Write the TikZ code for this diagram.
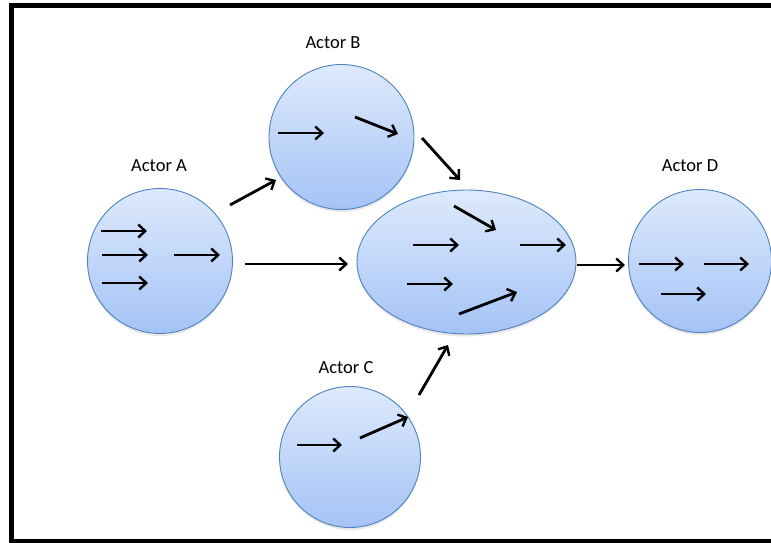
\documentclass[tikz,border=0pt]{standalone}
\usepackage{fontspec}
\setmainfont{Carlito}
\usetikzlibrary{arrows.meta,shadows,shapes.geometric}
\definecolor{topblue}{RGB}{222,234,252}
\definecolor{botblue}{RGB}{164,195,246}
\definecolor{edgeblue}{RGB}{79,129,189}
\tikzset{
  actor/.style={circle, draw=edgeblue, line width=0.9pt, inner sep=0pt,
    top color=topblue, bottom color=botblue,
    drop shadow={opacity=0.18, shadow xshift=0pt, shadow yshift=-2.5pt}},
  hub/.style={ellipse, draw=edgeblue, line width=0.9pt, inner sep=0pt,
    top color=topblue, bottom color=botblue,
    drop shadow={opacity=0.18, shadow xshift=0pt, shadow yshift=-2.5pt}},
  lbl/.style={font=\fontsize{18.5}{20}\selectfont, inner sep=0pt},
  arr/.style={line width=2.8pt, -{Straight Barb[length=7pt,width=13pt,line width=2.4pt]}},
  frame/.style={line width=5pt, draw=black}
}
\begin{document}
\begin{tikzpicture}[x=1pt,y=-1pt]
\useasboundingbox (0,0) rectangle (771,543);
\clip (0,0) rectangle (771,543);
\draw[frame] (11.5,5.5) rectangle (790,541.5);

% actors
\node[actor, minimum size=145pt] (A) at (160,261) {};
\node[actor, minimum size=145pt] (B) at (341.5,137) {};
\node[actor, minimum size=141pt] (C) at (350,457) {};
\node[actor, minimum size=143pt] (D) at (700,261) {};
\node[hub, minimum width=219pt, minimum height=144pt] (E) at (466.5,262) {};

% labels
\node[lbl] (la) at (159,166) {Actor A};
\node[lbl] (lb) at (333,43) {Actor B};
\node[lbl] (lc) at (346,368) {Actor C};
\node[lbl] (ld) at (690,166) {Actor D};

% connectors between actors
\coordinate (ab1) at (230,205); \coordinate (ab2) at (276,180);
\coordinate (ae1) at (245,264); \coordinate (ae2) at (348,264);
\coordinate (be1) at (422,138); \coordinate (be2) at (460,180);
\coordinate (ce1) at (419,395); \coordinate (ce2) at (448,345);
\coordinate (ed1) at (577,265); \coordinate (ed2) at (625,265);
\draw[arr] (ab1) -- (ab2);
\draw[arr] (ae1) -- (ae2);
\draw[arr] (be1) -- (be2);
\draw[arr] (ce1) -- (ce2);
\draw[arr] (ed1) -- (ed2);

% arrows inside A
\draw[arr] (101,231) -- (147,231);
\draw[arr] (102,255) -- (148,255);
\draw[arr] (102,283) -- (148,283);
\draw[arr] (174,255) -- (220,255);
% arrows inside B
\draw[arr] (278,133) -- (324,133);
\draw[arr] (355,117) -- (398,134);
% arrows inside C
\draw[arr] (297,445) -- (342,445);
\draw[arr] (360,438) -- (408,417);
% arrows inside E
\draw[arr] (454,206) -- (496,230);
\draw[arr] (413,245) -- (459,245);
\draw[arr] (520,245) -- (566,245);
\draw[arr] (407,284) -- (453,284);
\draw[arr] (459,314) -- (517,292);
% arrows inside D
\draw[arr] (639,264) -- (684,264);
\draw[arr] (704,264) -- (749,264);
\draw[arr] (661,294) -- (706,294);
\end{tikzpicture}
\end{document}
